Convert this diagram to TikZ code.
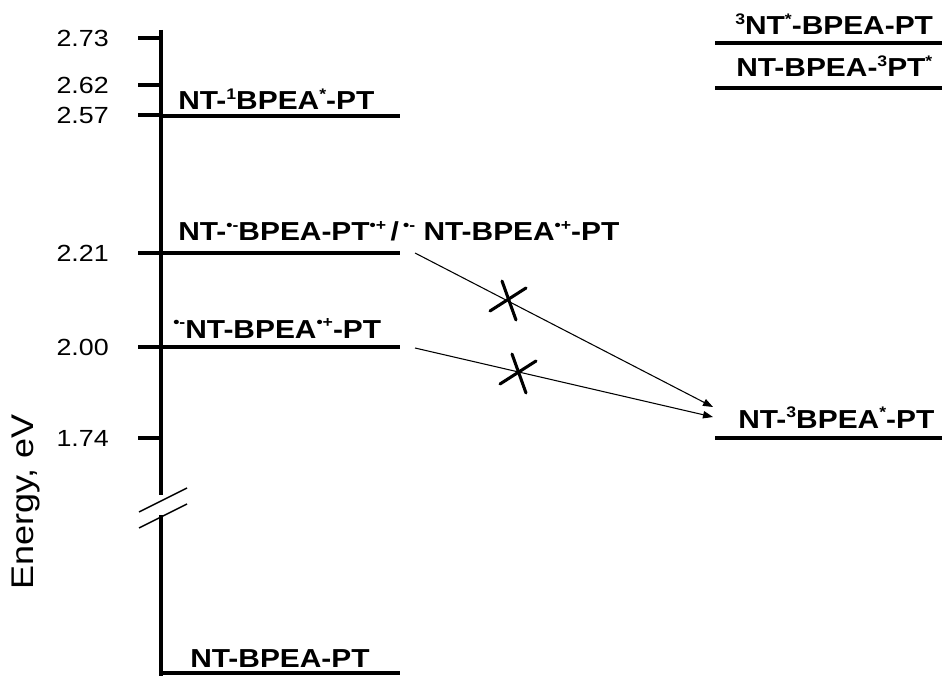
\documentclass[tikz,border=0pt]{standalone}
\usepackage{fontspec}
\setmainfont{Liberation Sans}[FakeStretch=1.15]
\usetikzlibrary{arrows.meta}
\newcommand\lvlsup[1]{\raisebox{0.42em}{\fontsize{11.5pt}{12pt}\selectfont #1}}
\begin{document}
\begin{tikzpicture}[x=0.75pt, y=-0.75pt, every node/.style={inner sep=0pt},
    level/.style={line width=3.2pt},
    tick/.style={line width=3.5pt},
    lbl/.style={anchor=base west, font=\bfseries\fontsize{19.5}{22}\selectfont},
    ticklbl/.style={anchor=east, font=\fontsize{17.5}{20}\selectfont},
    trans/.style={line width=0.8pt, -{Triangle[length=7.5pt,width=5.5pt]}},
    blocked/.style={line width=2.3pt, line cap=round}]
    \useasboundingbox (0,0) rectangle (942,677);

    % energy axis with break
    \draw[tick] (161,30) -- (161,495);
    \draw[tick] (161,515) -- (161,676);
    \draw[line width=1.1pt] (139,512) -- (187,488);
    \draw[line width=1.1pt] (139,528) -- (187,504);
    \foreach \e/\y in {2.73/38, 2.62/85, 2.57/115, 2.21/253, 2.00/347, 1.74/438} {
        \draw[tick] (138,\y) -- (161,\y);
        \node[ticklbl] at (109,\y) {\e};
    }
    \node[anchor=base, rotate=90, font=\fontsize{23.5}{26}\selectfont] (axlbl) at (33,502) {Energy, eV};

    % levels, left
    \draw[level] (161,673) -- (400,673);
    \node[lbl] (S0) at (190,667) {NT-BPEA-PT};
    \draw[level] (161,116) -- (400,116);
    \node[lbl] (S1) at (178,110) {NT-\lvlsup{1}BPEA\lvlsup{*}-PT};
    \draw[level] (161,253) -- (400,253);
    \node[lbl] (CT) at (178,241) {NT-\lvlsup{•-}BPEA-PT\lvlsup{•+}\,/\,\lvlsup{•-} NT-BPEA\lvlsup{•+}-PT};
    \draw[level] (161,347) -- (400,347);
    \node[lbl] (CS) at (173,338) {\lvlsup{•-}NT-BPEA\lvlsup{•+}-PT};

    % levels, right
    \draw[level] (715,43) -- (942,43);
    \node[lbl] (TNT) at (735,35) {\lvlsup{3}NT\lvlsup{*}-BPEA-PT};
    \draw[level] (715,88) -- (942,88);
    \node[lbl] (TPT) at (736,77) {NT-BPEA-\lvlsup{3}PT\lvlsup{*}};
    \draw[level] (715,438) -- (942,438);
    \node[lbl] (T1) at (738,428) {NT-\lvlsup{3}BPEA\lvlsup{*}-PT};

    % forbidden recombination
    \coordinate (CTout) at (415,253);
    \coordinate (CSout) at (415,348);
    \coordinate (T1inA) at (713,407);
    \coordinate (T1inB) at (713,417);
    \draw[trans] (CTout) -- (T1inA);
    \draw[trans] (CSout) -- (T1inB);
    \foreach \c in {(508,300), (518,373)} {
        \draw[blocked, shift={\c}] (-18,11) -- (18,-12);
        \draw[blocked, shift={\c}] (-6,-19) -- (8,20);
    }
\end{tikzpicture}
\end{document}
